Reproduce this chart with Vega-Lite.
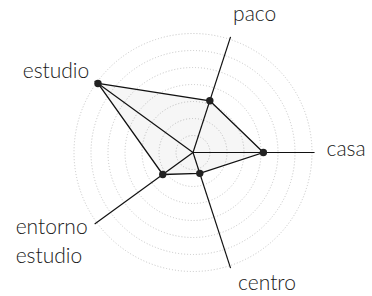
{
  "$schema": "https://vega.github.io/schema/vega-lite/v6.json",
  "width": 255,
  "height": 255,
  "autosize": {"type": "none"},
  "padding": {"left": 65.5, "top": 25, "right": 51.5, "bottom": 16},
  "background": "white",
  "config": {"view": {"stroke": null}, "text": {"font": "Lato", "fontSize": 21, "fontWeight": 300, "color": "#1a1a1a"}},
  "datasets": {
    "ejes": [
      {"eje": "paco", "i": 0, "valor": 3.2},
      {"eje": "casa", "i": 1, "valor": 4.14},
      {"eje": "centro", "i": 2, "valor": 1.29},
      {"eje": "entorno estudio", "i": 3, "valor": 2.2},
      {"eje": "estudio", "i": 4, "valor": 6.91}
    ],
    "niveles": [
      {"nivel": 1}, {"nivel": 2}, {"nivel": 3}, {"nivel": 4},
      {"nivel": 5}, {"nivel": 6}, {"nivel": 7}
    ]
  },
  "layer": [
    {
      "data": {"name": "niveles"},
      "transform": [{"calculate": "0", "as": "o"}],
      "mark": {"type": "point", "shape": "circle", "filled": false, "stroke": "#c4c4c4", "strokeWidth": 1, "strokeDash": [1, 2], "opacity": 1},
      "encoding": {
        "x": {"field": "o", "type": "quantitative", "scale": {"domain": [-7.5, 7.5]}, "axis": null},
        "y": {"field": "o", "type": "quantitative", "scale": {"domain": [-7.5, 7.5]}, "axis": null},
        "size": {"field": "nivel", "type": "quantitative", "scale": {"type": "pow", "exponent": 2, "domain": [0, 7.5], "range": [0, 65025], "zero": true}, "legend": null}
      }
    },
    {
      "data": {"name": "ejes"},
      "transform": [
        {"calculate": "0", "as": "o"},
        {"calculate": "PI/2 - PI/10 - datum.i*2*PI/5", "as": "ang"},
        {"calculate": "7.15*cos(datum.ang)", "as": "ex"},
        {"calculate": "7.15*sin(datum.ang)", "as": "ey"},
        {"calculate": "datum.valor*cos(datum.ang)", "as": "px"},
        {"calculate": "datum.valor*sin(datum.ang)", "as": "py"}
      ],
      "layer": [
        {
          "mark": {"type": "line", "interpolate": "linear-closed", "fill": "#000", "fillOpacity": 0.035, "stroke": "#111", "strokeWidth": 1.3},
          "encoding": {
            "x": {"field": "px", "type": "quantitative", "scale": {"domain": [-7.5, 7.5]}, "axis": null},
            "y": {"field": "py", "type": "quantitative", "scale": {"domain": [-7.5, 7.5]}, "axis": null},
            "order": {"field": "i", "type": "quantitative"}
          }
        },
        {
          "mark": {"type": "rule", "stroke": "#111", "strokeWidth": 1.2},
          "encoding": {
            "x": {"field": "o", "type": "quantitative", "scale": {"domain": [-7.5, 7.5]}, "axis": null},
            "y": {"field": "o", "type": "quantitative", "scale": {"domain": [-7.5, 7.5]}, "axis": null},
            "x2": {"field": "ex"},
            "y2": {"field": "ey"}
          }
        },
        {
          "mark": {"type": "point", "filled": true, "size": 55, "color": "#222", "opacity": 1},
          "encoding": {
            "x": {"field": "px", "type": "quantitative", "scale": {"domain": [-7.5, 7.5]}, "axis": null},
            "y": {"field": "py", "type": "quantitative", "scale": {"domain": [-7.5, 7.5]}, "axis": null}
          }
        },
        {
          "transform": [{"filter": "datum.eje == 'paco'"}],
          "mark": {"type": "text", "align": "left", "baseline": "alphabetic", "dx": 2.5, "dy": -16},
          "encoding": {
            "x": {"field": "ex", "type": "quantitative", "scale": {"domain": [-7.5, 7.5]}, "axis": null},
            "y": {"field": "ey", "type": "quantitative", "scale": {"domain": [-7.5, 7.5]}, "axis": null},
            "text": {"field": "eje", "type": "nominal"}
          }
        },
        {
          "transform": [{"filter": "datum.eje == 'casa'"}],
          "mark": {"type": "text", "align": "left", "baseline": "alphabetic", "dx": 12, "dy": 3.5},
          "encoding": {
            "x": {"field": "ex", "type": "quantitative", "scale": {"domain": [-7.5, 7.5]}, "axis": null},
            "y": {"field": "ey", "type": "quantitative", "scale": {"domain": [-7.5, 7.5]}, "axis": null},
            "text": {"field": "eje", "type": "nominal"}
          }
        },
        {
          "transform": [{"filter": "datum.eje == 'centro'"}],
          "mark": {"type": "text", "align": "left", "baseline": "alphabetic", "dx": 7.5, "dy": 22},
          "encoding": {
            "x": {"field": "ex", "type": "quantitative", "scale": {"domain": [-7.5, 7.5]}, "axis": null},
            "y": {"field": "ey", "type": "quantitative", "scale": {"domain": [-7.5, 7.5]}, "axis": null},
            "text": {"field": "eje", "type": "nominal"}
          }
        },
        {
          "transform": [{"filter": "datum.eje == 'entorno estudio'"}],
          "mark": {"type": "text", "align": "left", "baseline": "alphabetic", "dx": -79, "dy": 10.4, "lineBreak": " ", "lineHeight": 29},
          "encoding": {
            "x": {"field": "ex", "type": "quantitative", "scale": {"domain": [-7.5, 7.5]}, "axis": null},
            "y": {"field": "ey", "type": "quantitative", "scale": {"domain": [-7.5, 7.5]}, "axis": null},
            "text": {"field": "eje", "type": "nominal"}
          }
        },
        {
          "transform": [{"filter": "datum.eje == 'estudio'"}],
          "mark": {"type": "text", "align": "right", "baseline": "alphabetic", "dx": -5.4, "dy": -2.8},
          "encoding": {
            "x": {"field": "ex", "type": "quantitative", "scale": {"domain": [-7.5, 7.5]}, "axis": null},
            "y": {"field": "ey", "type": "quantitative", "scale": {"domain": [-7.5, 7.5]}, "axis": null},
            "text": {"field": "eje", "type": "nominal"}
          }
        }
      ]
    }
  ]
}
